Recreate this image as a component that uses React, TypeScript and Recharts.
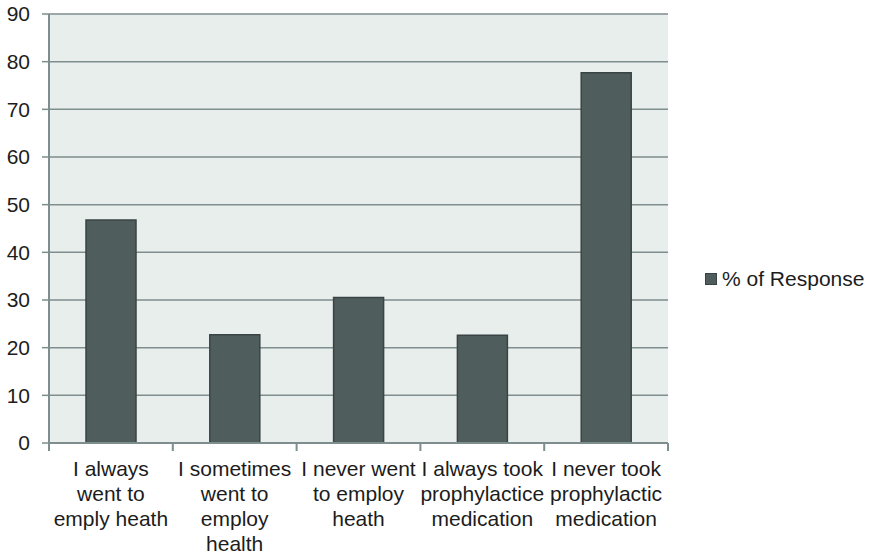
import React from 'react';
import { BarChart, Bar, XAxis, YAxis, CartesianGrid, Legend } from 'recharts';

const categories = [
  'I always\nwent to\nemply heath',
  'I sometimes\nwent to\nemploy\nhealth',
  'I never went\nto employ\nheath',
  'I always took\nprophylactice\nmedication',
  'I never took\nprophylactic\nmedication',
];
const responses = [46.8, 22.7, 30.5, 22.6, 77.7];
const yTicks = [0, 10, 20, 30, 40, 50, 60, 70, 80, 90];
const seriesName = '% of Response';

const data = categories.map((name, i) => ({ name, value: responses[i] }));

const W = 873;
const H = 557;
const LEFT = 49;
const RIGHT = 205;
const BAND = (W - LEFT - RIGHT) / categories.length;
const FONT = '"Liberation Sans", Arial, sans-serif';
const GRID = '#7e8d8d';
const TEXT = '#1c1c1c';

const XTick = (props: any) => {
  const { x, y, payload, index } = props;
  const lines = String(payload.value).split('\n');
  const half = BAND / 2;
  return (
    <g>
      <line x1={x - half} x2={x - half} y1={y} y2={y + 8} stroke={GRID} strokeWidth={2} />
      {index === categories.length - 1 && (
        <line x1={x + half} x2={x + half} y1={y} y2={y + 8} stroke={GRID} strokeWidth={2} />
      )}
      <text x={x} y={y} textAnchor="middle" fill={TEXT} fontSize={21} fontFamily={FONT}>
        {lines.map((l, i) => (
          <tspan key={i} x={x} y={y + 33 + i * 25}>{l}</tspan>
        ))}
      </text>
    </g>
  );
};

const LegendBox = () => (
  <div style={{ display: 'flex', alignItems: 'center', fontFamily: FONT, fontSize: 21, color: TEXT }}>
    <span style={{ width: 10, height: 10, background: '#4f5d5d', border: '1px solid #3a4444', marginRight: 5 }} />
    <span>{seriesName}</span>
  </div>
);

export default function App() {
  return (
    <div style={{ position: 'absolute', left: 0, top: 0, background: '#fff' }}>
      <BarChart width={W} height={H} data={data} margin={{ top: 14, right: RIGHT, left: 0, bottom: 0 }}>
        <CartesianGrid vertical={false} fill="#e8eeec" stroke={GRID} strokeWidth={1.5} />
        <XAxis
          dataKey="name"
          height={114}
          interval={0}
          tickLine={false}
          tickSize={0}
          tickMargin={0}
          axisLine={{ stroke: GRID, strokeWidth: 2 }}
          tick={<XTick />}
        />
        <YAxis
          width={LEFT}
          domain={[0, 90]}
          ticks={yTicks}
          interval={0}
          tickSize={7}
          tickMargin={12}
          axisLine={{ stroke: GRID, strokeWidth: 2 }}
          tickLine={{ stroke: GRID, strokeWidth: 1.5 }}
          tick={{ fill: TEXT, fontSize: 21, fontFamily: FONT }}
        />
        <Legend
          align="center"
          verticalAlign="middle"
          content={<LegendBox />}
          wrapperStyle={{ left: 705, top: 267, width: 168 }}
        />
        <Bar
          dataKey="value"
          name={seriesName}
          barSize={50}
          fill="#4f5d5d"
          stroke="#3a4444"
          strokeWidth={1.5}
          isAnimationActive={false}
        />
      </BarChart>
    </div>
  );
}
